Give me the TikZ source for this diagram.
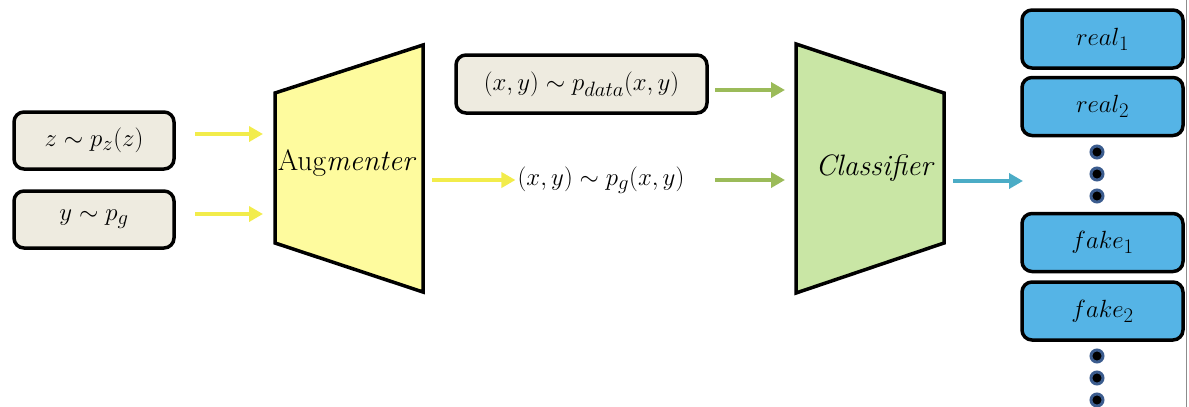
\documentclass[tikz,border=0pt]{standalone}
\usepackage{fontspec}
\usetikzlibrary{arrows.meta}
\definecolor{yarrow}{HTML}{F2EC4B}
\definecolor{augfill}{HTML}{FEFB9E}
\definecolor{garrow}{HTML}{9BBB59}
\definecolor{clsfill}{HTML}{C9E6A5}
\definecolor{barrow}{HTML}{4BACC6}
\definecolor{bluefill}{HTML}{55B4E6}
\definecolor{boxgray}{HTML}{EEEBE0}
\definecolor{dotring}{HTML}{3B5C8E}
\begin{document}
\begin{tikzpicture}[x=1pt,y=-1pt,
  font=\fontsize{28}{32}\selectfont,
  biglabel/.style={font=\fontsize{29.5}{34}\selectfont},
  gbox/.style={draw, line width=3.5pt, rounded corners=10pt, fill=boxgray, minimum width=160pt, minimum height=57pt, inner sep=0pt},
  bbox/.style={draw, line width=3.5pt, rounded corners=10pt, fill=bluefill, minimum width=161pt, minimum height=58pt, inner sep=0pt},
  trap/.style={draw, line width=3.5pt, line join=miter},
  arr/.style={line width=4pt, -{Triangle[length=14pt,width=15pt]}},
  dotmark/.style={circle, fill=black, draw=dotring, line width=3pt, minimum size=12pt, inner sep=0pt}
]
\useasboundingbox (0,0) rectangle (1189,407);

% input boxes
\node[gbox] (zbox) at (94,140.5) {$z\sim p_z(z)$};
\node[gbox] (ybox) at (94,219.5) {$y\sim p_g$};

% augmenter
\coordinate (augTL) at (275,93);
\coordinate (augTR) at (423,45);
\coordinate (augBR) at (423,292);
\coordinate (augBL) at (275,243);
\draw[trap, fill=augfill] (augTL) -- (augTR) -- (augBR) -- (augBL) -- cycle;
\node[biglabel] (auglabel) at (347,163) {Aug\textit{menter}};

\coordinate (y1s) at (195,134); \coordinate (y1e) at (263,134);
\coordinate (y2s) at (195,214); \coordinate (y2e) at (263,214);
\draw[arr, yarrow] (y1s) -- (y1e);
\draw[arr, yarrow] (y2s) -- (y2e);

% data box and generated sample
\node[gbox, minimum width=251pt, minimum height=58pt] (databox) at (581.5,84) {$(x,y)\sim p_{data}(x,y)$};
\node[inner sep=2pt] (pgtext) at (601,180) {$(x,y)\sim p_g(x,y)$};
\coordinate (y3s) at (432,180);
\draw[arr, yarrow] (y3s) -- (pgtext.west);

% classifier
\coordinate (clsTL) at (796,44);
\coordinate (clsTR) at (944,93);
\coordinate (clsBR) at (944,243);
\coordinate (clsBL) at (796,293);
\draw[trap, fill=clsfill] (clsTL) -- (clsTR) -- (clsBR) -- (clsBL) -- cycle;
\node[biglabel] (clslabel) at (875,168) {\textit{Classifier}};

\coordinate (g1s) at (715,90); \coordinate (g1e) at (785,90);
\coordinate (g2s) at (715,180); \coordinate (g2e) at (785,180);
\draw[arr, garrow] (g1s) -- (g1e);
\draw[arr, garrow] (g2s) -- (g2e);

\coordinate (b1s) at (953,181); \coordinate (b1e) at (1023,181);
\draw[arr, barrow] (b1s) -- (b1e);

% outputs
\node[bbox] (real1) at (1102.5,39) {$real_1$};
\node[bbox] (real2) at (1102.5,106.5) {$real_2$};
\node[dotmark] (d1) at (1097,152) {};
\node[dotmark] (d2) at (1097,174) {};
\node[dotmark] (d3) at (1097,196) {};
\node[bbox] (fake1) at (1102.5,242.5) {$fake_1$};
\node[bbox] (fake2) at (1102.5,311) {$fake_2$};
\node[dotmark] (d4) at (1097,356) {};
\node[dotmark] (d5) at (1097,378) {};
\node[dotmark] (d6) at (1097,400) {};

% right border line
\coordinate (edgeT) at (1186,0); \coordinate (edgeB) at (1186,407);
\draw[black!45, line width=1pt] (edgeT) -- (edgeB);
\end{tikzpicture}
\end{document}
